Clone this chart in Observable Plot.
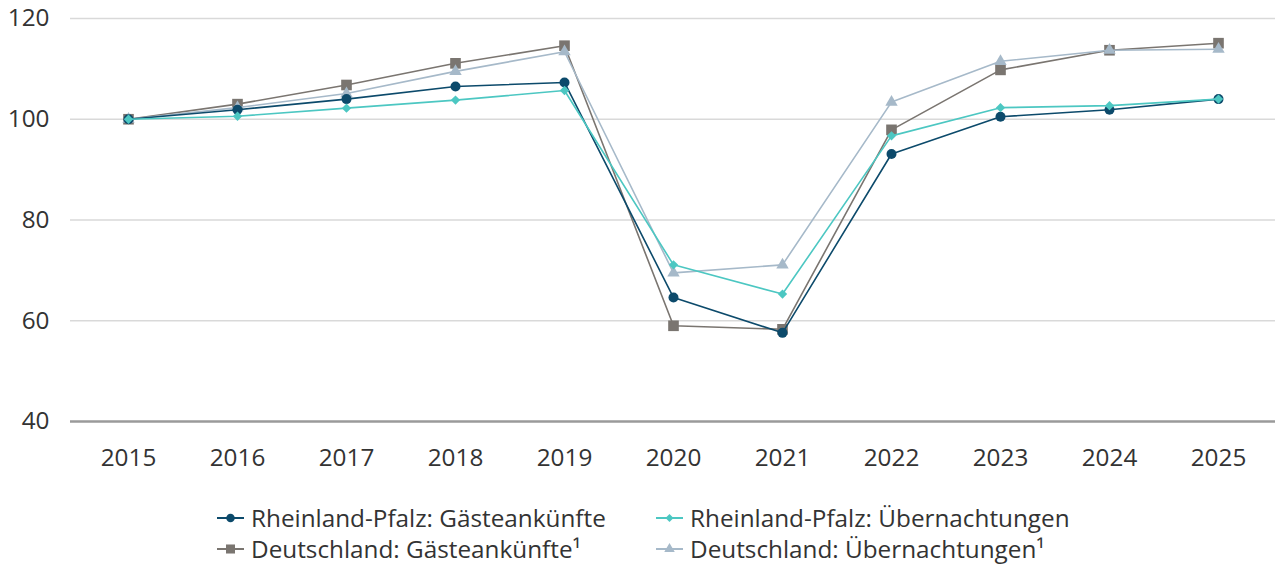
<!DOCTYPE html>
<html>
<head>
<meta charset="utf-8">
<script src="https://cdn.jsdelivr.net/npm/d3@7"></script>
<script src="https://cdn.jsdelivr.net/npm/@observablehq/plot@0.6"></script>
<style>
  html, body { margin: 0; padding: 0; background: #fff; }
  body { width: 1276px; height: 568px; overflow: hidden; font-family: "Open Sans", sans-serif; color: #333; }
  #legend { display: grid; grid-template-columns: 439px auto; margin-left: 217px; padding-top: 12px; }
  .item { display: flex; align-items: center; height: 31px; font-size: 24.3px; color: #333; white-space: nowrap; }
  .item svg { margin-right: 7px; }
</style>
</head>
<body>
<div id="chart"></div>
<div id="legend"></div>
<script>
const years = [2015, 2016, 2017, 2018, 2019, 2020, 2021, 2022, 2023, 2024, 2025];
const rpArrivals = [100, 101.9, 104.0, 106.5, 107.3, 64.6, 57.6, 93.1, 100.5, 101.9, 104.0];
const rpNights   = [100, 100.6, 102.2, 103.8, 105.7, 71.1, 65.3, 96.7, 102.3, 102.7, 104.0];
const deArrivals = [100, 103.0, 106.8, 111.1, 114.6, 59.0, 58.3, 97.9, 109.8, 113.7, 115.1];
const deNights   = [100, 102.3, 105.1, 109.5, 113.4, 69.5, 71.1, 103.4, 111.5, 113.7, 113.9];
const seriesNames = [
  "Deutschland: Gästeankünfte¹",
  "Deutschland: Übernachtungen¹",
  "Rheinland-Pfalz: Gästeankünfte",
  "Rheinland-Pfalz: Übernachtungen"
];
const seriesValues = [deArrivals, deNights, rpArrivals, rpNights];
const seriesColors = ["#7a7570", "#a6b9c9", "#0c4a6b", "#4cc7c2"];
const seriesSymbols = ["square", "triangle", "circle", "diamond2"];
const seriesR = [6.0, 4.6, 5.0, 4.2];
const yTicks = [40, 60, 80, 100, 120];
const legendOrder = [2, 3, 0, 1];

const rows = [];
seriesNames.forEach((name, i) => {
  years.forEach((yr, j) => rows.push({series: name, idx: i, year: String(yr), value: seriesValues[i][j]}));
});

const marks = [
  Plot.gridY(yTicks.filter(t => t > 40), {stroke: "#d9d9d9", strokeOpacity: 1, strokeWidth: 1.3}),
  Plot.ruleY([40], {stroke: "#9a9a9a", strokeWidth: 2.5}),
  Plot.axisY(yTicks, {tickSize: 0, tickPadding: 21, fontSize: 24.3, fill: "#333", label: null}),
  Plot.axisX({tickSize: 0, tickPadding: 27, fontSize: 24.3, fill: "#333", label: null})
];
seriesNames.forEach((name, i) => {
  const d = rows.filter(r => r.idx === i);
  marks.push(Plot.line(d, {x: "year", y: "value", stroke: seriesColors[i], strokeWidth: 1.6}));
  marks.push(Plot.dot(d, {x: "year", y: "value", fill: seriesColors[i], symbol: () => seriesSymbols[i], r: seriesR[i], stroke: "none"}));
});

const chart = Plot.plot({
  width: 1276,
  height: 490,
  marginLeft: 70,
  marginRight: 1,
  marginTop: 18,
  marginBottom: 69,
  style: {fontFamily: "'Open Sans', sans-serif", background: "#fff", color: "#333"},
  x: {type: "point", domain: years.map(String), range: [123.5, 1223], padding: 0},
  y: {domain: [40, 120]},
  symbol: {type: "identity"},
  marks
});
document.getElementById("chart").appendChild(chart);

// Legend
const legend = document.getElementById("legend");
legendOrder.forEach(i => {
  const item = document.createElement("div");
  item.className = "item";
  const ns = "http://www.w3.org/2000/svg";
  const svg = document.createElementNS(ns, "svg");
  svg.setAttribute("width", 27); svg.setAttribute("height", 16);
  const line = document.createElementNS(ns, "line");
  line.setAttribute("x1", 0); line.setAttribute("x2", 27);
  line.setAttribute("y1", 8); line.setAttribute("y2", 8);
  line.setAttribute("stroke", seriesColors[i]); line.setAttribute("stroke-width", 2);
  svg.appendChild(line);
  const sym = {square: d3.symbolSquare, triangle: d3.symbolTriangle, circle: d3.symbolCircle, diamond2: d3.symbolDiamond2}[seriesSymbols[i]];
  const path = document.createElementNS(ns, "path");
  path.setAttribute("d", d3.symbol(sym, Math.PI * (seriesR[i] * 0.85) ** 2)());
  path.setAttribute("transform", "translate(13.5,8)");
  path.setAttribute("fill", seriesColors[i]);
  svg.appendChild(path);
  item.appendChild(svg);
  const span = document.createElement("span");
  span.textContent = seriesNames[i];
  item.appendChild(span);
  legend.appendChild(item);
});
</script>
</body>
</html>
